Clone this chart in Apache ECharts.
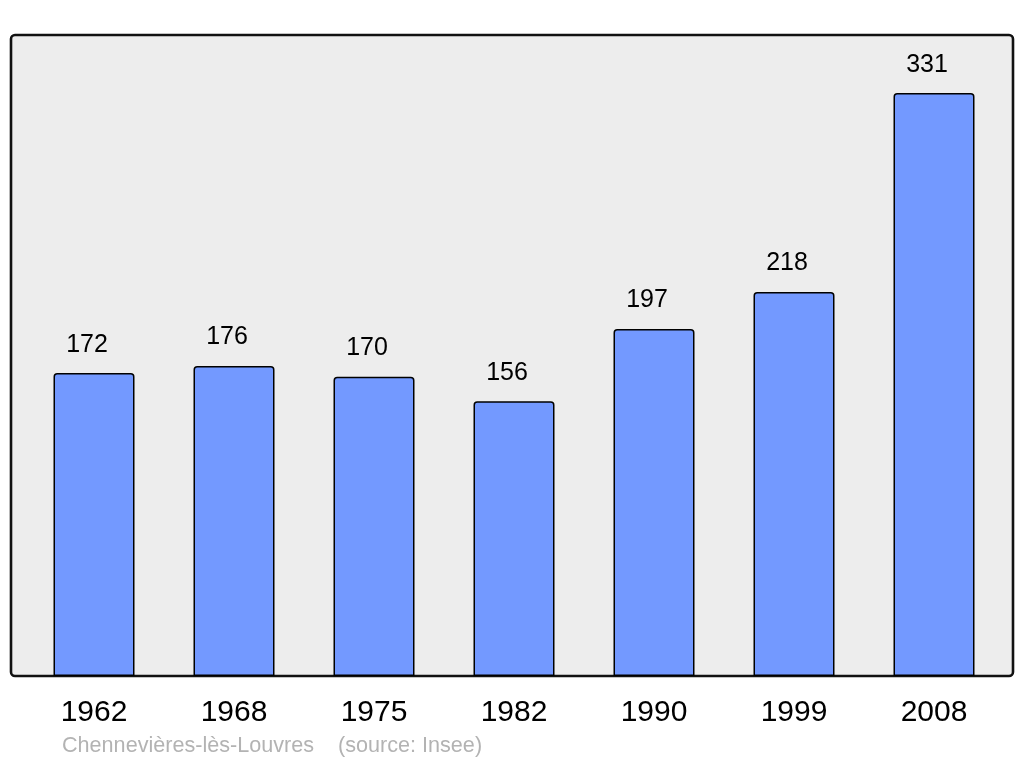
<!DOCTYPE html>
<html>
<head>
<meta charset="utf-8">
<style>html,body{margin:0;padding:0;background:#fff;}#c{width:1024px;height:765px;}</style>
<script src="https://cdn.jsdelivr.net/npm/echarts@6/dist/echarts.min.js"></script>
</head>
<body>
<div id="c"></div>
<script>
const categories = ['1962', '1968', '1975', '1982', '1990', '1999', '2008'];
const population = [172, 176, 170, 156, 197, 218, 331];
const footnote = 'Chennevières-lès-Louvres    (source: Insee)';

const chart = echarts.init(document.getElementById('c'), null, {renderer: 'canvas'});
chart.setOption({
  animation: false,
  backgroundColor: '#ffffff',
  graphic: [
    {type: 'rect', z: -10, shape: {x: 11, y: 35, width: 1002, height: 641, r: 4},
     style: {fill: '#ededed', stroke: '#111111', lineWidth: 2.6}},
    {type: 'text', left: 62, top: 735, z: 10,
     style: {text: footnote, fill: '#b3b3b3', font: '21.6px "Liberation Sans", Arial, sans-serif'}}
  ],
  grid: {left: 24, right: 20, top: 35, bottom: 89},
  xAxis: {
    type: 'category', data: categories,
    axisLine: {show: false},
    axisTick: {show: false},
    axisLabel: {color: '#000', fontSize: 30, margin: 22, fontFamily: '"Liberation Sans", Arial, sans-serif'}
  },
  yAxis: {type: 'value', min: 0, max: 364, show: false, splitLine: {show: false}},
  series: [{
    type: 'bar', data: population, barWidth: 81,
    itemStyle: {color: '#7399ff', borderColor: '#000', borderWidth: 1.5, borderRadius: [3, 3, 0, 0]},
    label: {show: true, position: 'top', distance: 16, offset: [-7, 0], color: '#000', fontSize: 25,
            fontFamily: '"Liberation Sans", Arial, sans-serif'}
  }]
});
</script>
</body>
</html>
